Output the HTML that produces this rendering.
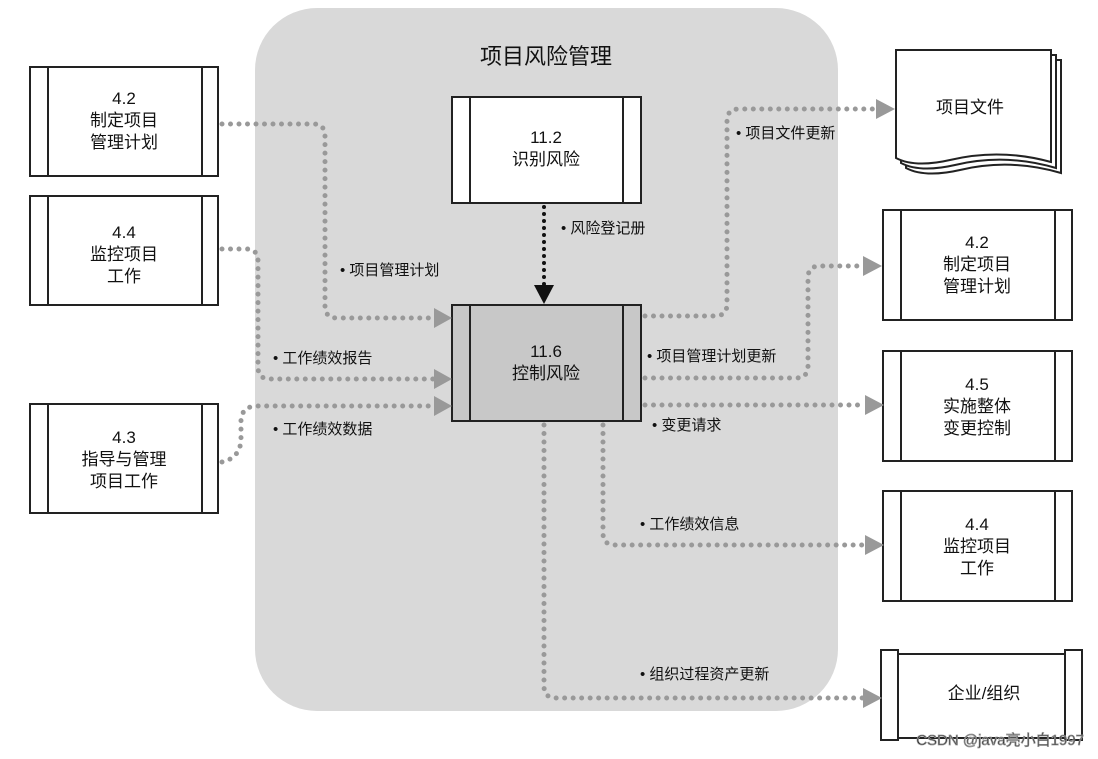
<!DOCTYPE html>
<html><head><meta charset="utf-8"><style>
html,body{margin:0;padding:0;background:#fff;}
svg{display:block;}
text{font-family:"Liberation Sans","Noto Sans CJK SC",sans-serif;fill:#111;}
</style></head><body>
<svg width="1098" height="759" viewBox="0 0 1098 759" xmlns="http://www.w3.org/2000/svg">
<rect x="255" y="8" width="583" height="703" rx="62" fill="#d9d9d9"/>
<text x="546" y="64" font-size="22" text-anchor="middle">项目风险管理</text>

<g fill="#fff" stroke="#222" stroke-width="2">
<rect x="30" y="67" width="188" height="109"/><line x1="48" y1="67" x2="48" y2="176"/><line x1="202" y1="67" x2="202" y2="176"/>
<rect x="30" y="196" width="188" height="109"/><line x1="48" y1="196" x2="48" y2="305"/><line x1="202" y1="196" x2="202" y2="305"/>
<rect x="30" y="404" width="188" height="109"/><line x1="48" y1="404" x2="48" y2="513"/><line x1="202" y1="404" x2="202" y2="513"/>
<rect x="452" y="97" width="189" height="106"/><line x1="470" y1="97" x2="470" y2="203"/><line x1="623" y1="97" x2="623" y2="203"/>
<rect x="452" y="305" width="189" height="116" fill="#c8c8c8"/><line x1="470" y1="305" x2="470" y2="421"/><line x1="623" y1="305" x2="623" y2="421"/>
<rect x="883" y="210" width="189" height="110"/><line x1="901" y1="210" x2="901" y2="320"/><line x1="1055" y1="210" x2="1055" y2="320"/>
<rect x="883" y="351" width="189" height="110"/><line x1="901" y1="351" x2="901" y2="461"/><line x1="1055" y1="351" x2="1055" y2="461"/>
<rect x="883" y="491" width="189" height="110"/><line x1="901" y1="491" x2="901" y2="601"/><line x1="1055" y1="491" x2="1055" y2="601"/>
<rect x="898" y="654" width="167" height="84"/>
<rect x="881" y="650" width="17" height="90"/><rect x="1065" y="650" width="17" height="90"/>
<path d="M906 60 H1061 V173 Q1010 158 960 170 Q925 178 906 168 Z"/>
<path d="M901 55 H1056 V168 Q1005 153 955 165 Q920 173 901 163 Z"/>
<path d="M896 50 H1051 V162 Q1000 148 950 160 Q915 168 896 158 Z"/>
</g>

<g font-size="17" text-anchor="middle">
<text x="124" y="104">4.2</text><text x="124" y="126">制定项目</text><text x="124" y="148">管理计划</text>
<text x="124" y="238">4.4</text><text x="124" y="260">监控项目</text><text x="124" y="282">工作</text>
<text x="124" y="443">4.3</text><text x="124" y="465">指导与管理</text><text x="124" y="487">项目工作</text>
<text x="546" y="143">11.2</text><text x="546" y="165">识别风险</text>
<text x="546" y="357">11.6</text><text x="546" y="379">控制风险</text>
<text x="977" y="248">4.2</text><text x="977" y="270">制定项目</text><text x="977" y="292">管理计划</text>
<text x="977" y="390">4.5</text><text x="977" y="412">实施整体</text><text x="977" y="434">变更控制</text>
<text x="977" y="530">4.4</text><text x="977" y="552">监控项目</text><text x="977" y="574">工作</text>
<text x="984" y="699">企业/组织</text>
<text x="970" y="113">项目文件</text>
</g>

<g fill="none" stroke="#999" stroke-width="5" stroke-linecap="round" stroke-dasharray="0 8.5">
<path d="M222 124 H313 Q325 124 325 136 V306 Q325 318 337 318 H436"/>
<path d="M222 249 H246 Q258 249 258 261 V367 Q258 379 270 379 H436"/>
<path d="M222 462 Q240 458 241 440 V420 Q242 406 258 406 H436"/>
<path d="M645 316 H715 Q727 316 727 304 V121 Q727 109 739 109 H876"/>
<path d="M645 378 H796 Q808 378 808 366 V278 Q808 266 820 266 H864"/>
<path d="M645 405 H866"/>
<path d="M603 425 V533 Q603 545 615 545 H866"/>
<path d="M544 425 V686 Q544 698 556 698 H864"/>
</g>
<g fill="#999">
<polygon points="434,308 452,318 434,328"/>
<polygon points="434,369 452,379 434,389"/>
<polygon points="434,396 452,406 434,416"/>
<polygon points="876,99 895,109 876,119"/>
<polygon points="863,256 882,266 863,276"/>
<polygon points="865,395 884,405 865,415"/>
<polygon points="865,535 884,545 865,555"/>
<polygon points="863,688 882,698 863,708"/>
</g>
<path d="M544 207 V285" fill="none" stroke="#111" stroke-width="4" stroke-linecap="round" stroke-dasharray="0 7"/>
<polygon points="534,285 554,285 544,304" fill="#111"/>

<g font-size="15">
<text x="340" y="275">• 项目管理计划</text>
<text x="273" y="363">• 工作绩效报告</text>
<text x="273" y="434">• 工作绩效数据</text>
<text x="561" y="233">• 风险登记册</text>
<text x="736" y="138">• 项目文件更新</text>
<text x="647" y="361">• 项目管理计划更新</text>
<text x="652" y="430">• 变更请求</text>
<text x="640" y="529">• 工作绩效信息</text>
<text x="640" y="679">• 组织过程资产更新</text>
</g>
<text x="1084" y="745" font-size="15" text-anchor="end" fill="#fff" stroke="#999" stroke-width="0.8">CSDN @java亮小白1997</text>
</svg>
</body></html>
